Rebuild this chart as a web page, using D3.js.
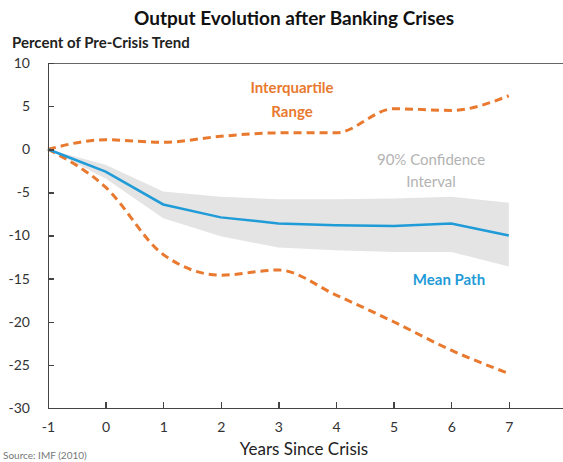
<!DOCTYPE html>
<html lang="en">
<head>
<meta charset="utf-8">
<title>Output Evolution after Banking Crises</title>
<script src="https://cdn.jsdelivr.net/npm/d3@7/dist/d3.min.js"></script>
<style>
  body { margin: 0; background: #fff; }
  svg { display: block; font-family: Lato, "Open Sans", sans-serif; }
  .axis path, .axis line { stroke: #444; stroke-width: 1.5px; shape-rendering: crispEdges; }
  .axis text { font-family: Lato, sans-serif; font-size: 14px; fill: #333; }
</style>
</head>
<body>
<script>
// years since crisis
var years = [-1, 0, 1, 2, 3, 4, 5, 6, 7];
// series (percent of pre-crisis trend)
var meanPath = [0, -2.6, -6.4, -7.9, -8.6, -8.8, -8.9, -8.6, -10.0];
var ciUpper  = [0, -1.8, -4.9, -5.5, -5.8, -5.8, -5.7, -5.5, -6.2];
var ciLower  = [0, -3.4, -8.0, -10.1, -11.4, -11.7, -11.9, -11.9, -13.6];
var iqrUpper = [0, 1.1, 0.8, 1.5, 1.9, 1.9, 4.7, 4.5, 6.2];
var iqrLower = [0, -4.4, -12.2, -14.6, -14.0, -16.9, -20.0, -23.3, -26.0];
var yTicks = [10, 5, 0, -5, -10, -15, -20, -25, -30];

var W = 563, H = 462;

var svg = d3.select("body").append("svg")
    .attr("width", W)
    .attr("height", H);

// scales - axis line runs past the right edge like in the source image
var x = d3.scaleLinear().domain([-1, 9]).range([48, 48 + 10 * 57.6]);
var y = d3.scaleLinear().domain([-30, 10]).range([408, 63]);

// top frame line
svg.append("line")
    .attr("x1", x(-1)).attr("x2", W)
    .attr("y1", y(10)).attr("y2", y(10))
    .attr("stroke", "#666").attr("stroke-width", 1)
    .attr("shape-rendering", "crispEdges");

// 90% confidence band
var band = d3.area()
    .x(function(d, i) { return x(years[i]); })
    .y0(function(d, i) { return y(ciLower[i]); })
    .y1(function(d, i) { return y(ciUpper[i]); });

svg.append("path")
    .datum(years)
    .attr("d", band)
    .attr("fill", "#e4e4e4");

// interquartile lines (dashed, slightly smoothed)
var iqrLine = d3.line()
    .x(function(d, i) { return x(years[i]); })
    .y(function(d) { return y(d); })
    .curve(d3.curveMonotoneX);

[iqrUpper, iqrLower].forEach(function(s) {
    svg.append("path")
        .datum(s)
        .attr("d", iqrLine)
        .attr("fill", "none")
        .attr("stroke", "#e8792e")
        .attr("stroke-width", 3)
        .attr("stroke-dasharray", "8,5");
});

// mean path
var meanLine = d3.line()
    .x(function(d, i) { return x(years[i]); })
    .y(function(d) { return y(d); });

svg.append("path")
    .datum(meanPath)
    .attr("d", meanLine)
    .attr("fill", "none")
    .attr("stroke", "#1f9bd7")
    .attr("stroke-width", 2.5);

// axes (plain hyphen for negatives, as in the source)
var xAxis = d3.axisBottom(x)
    .tickValues(years)
    .tickSizeInner(-6)
    .tickSizeOuter(0)
    .tickPadding(14)
    .tickFormat(String);

svg.append("g")
    .attr("class", "axis")
    .attr("transform", "translate(0," + y(-30) + ")")
    .call(xAxis);

var yAxis = d3.axisLeft(y)
    .tickValues(yTicks)
    .tickSizeInner(-6)
    .tickSizeOuter(0)
    .tickPadding(18)
    .tickFormat(String);

svg.append("g")
    .attr("class", "axis")
    .attr("transform", "translate(" + x(-1) + ",0)")
    .call(yAxis);

// titles
svg.append("text")
    .attr("x", 294).attr("y", 25)
    .attr("text-anchor", "middle")
    .attr("font-size", 19).attr("font-weight", "bold")
    .attr("fill", "#111")
    .text("Output Evolution after Banking Crises");

svg.append("text")
    .attr("x", 12).attr("y", 48)
    .attr("font-size", 15).attr("font-weight", "bold")
    .attr("fill", "#222")
    .text("Percent of Pre-Crisis Trend");

svg.append("text")
    .attr("x", 304).attr("y", 455)
    .attr("text-anchor", "middle")
    .attr("font-size", 17)
    .attr("fill", "#222")
    .text("Years Since Crisis");

svg.append("text")
    .attr("x", 3).attr("y", 459)
    .attr("font-size", 10)
    .attr("fill", "#777")
    .text("Source: IMF (2010)");

// series annotations
svg.append("text")
    .attr("x", 292).attr("y", 93)
    .attr("text-anchor", "middle")
    .attr("font-size", 15).attr("font-weight", "bold")
    .attr("fill", "#e8792e")
    .text("Interquartile");
svg.append("text")
    .attr("x", 292).attr("y", 117)
    .attr("text-anchor", "middle")
    .attr("font-size", 15).attr("font-weight", "bold")
    .attr("fill", "#e8792e")
    .text("Range");

svg.append("text")
    .attr("x", 431).attr("y", 165)
    .attr("text-anchor", "middle")
    .attr("font-size", 15)
    .attr("fill", "#b3b3b3")
    .text("90% Confidence");
svg.append("text")
    .attr("x", 431).attr("y", 187)
    .attr("text-anchor", "middle")
    .attr("font-size", 15)
    .attr("fill", "#b3b3b3")
    .text("Interval");

svg.append("text")
    .attr("x", 449).attr("y", 285)
    .attr("text-anchor", "middle")
    .attr("font-size", 15).attr("font-weight", "bold")
    .attr("fill", "#1f9bd7")
    .text("Mean Path");
</script>
</body>
</html>
